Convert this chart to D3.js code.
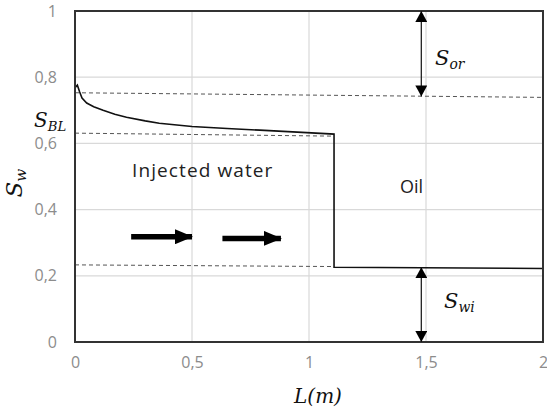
<!DOCTYPE html>
<html><head><meta charset="utf-8">
<script src="https://cdn.jsdelivr.net/npm/d3@7"></script>
<style>body{margin:0;background:#fff}svg{display:block}</style>
</head><body>
<script>
// Data
const xTicks = [0, 0.5, 1, 1.5, 2];
const xTickLabels = ["0", "0,5", "1", "1,5", "2"];
const yTicks = [0, 0.2, 0.4, 0.6, 0.8, 1];
const yTickLabels = ["0", "0,2", "0,4", "0,6", "0,8", "1"];
// saturation profile
const profileL  = [0, 0.01, 0.02, 0.03, 0.05, 0.08, 0.12, 0.17, 0.22, 0.3, 0.36, 0.5, 0.65, 0.79, 0.95, 1.107, 1.107, 2];
const profileSw = [0.768, 0.776, 0.755, 0.737, 0.722, 0.711, 0.700, 0.688, 0.679, 0.668, 0.661, 0.651, 0.645, 0.640, 0.634, 0.628, 0.226, 0.222];
// dashed reference lines [x1, y1, x2, y2]
const dashSor = [0, 0.753, 2, 0.739];
const dashSbl = [0, 0.631, 1.1, 0.622];
const dashSwi = [0, 0.233, 1.1, 0.228];
// double arrows [x, yTop, yBottom]
const arrowSor = [1.48, 1.0, 0.742];
const arrowSwi = [1.48, 0.226, 0.0];
// flow arrows [x1, x2, y]
const flowArrows = [[0.24, 0.50, 0.318], [0.63, 0.88, 0.313]];

const W = 547, H = 412;
const svg = d3.select("body").append("svg").attr("width", W).attr("height", H);
const x = d3.scaleLinear().domain([0, 2]).range([75, 543]);
const y = d3.scaleLinear().domain([0, 1]).range([342, 11]);

const defs = svg.append("defs");
defs.append("marker").attr("id", "tri").attr("viewBox", "0 0 11 12")
  .attr("refX", 11).attr("refY", 6).attr("markerWidth", 11).attr("markerHeight", 12)
  .attr("markerUnits", "userSpaceOnUse").attr("orient", "auto-start-reverse")
  .append("path").attr("d", "M0,0 L11,6 L0,12 Z").attr("fill", "#000");
defs.append("marker").attr("id", "big").attr("viewBox", "0 0 18 15")
  .attr("refX", 17).attr("refY", 7.5).attr("markerWidth", 18).attr("markerHeight", 15)
  .attr("markerUnits", "userSpaceOnUse").attr("orient", "auto")
  .append("path").attr("d", "M0,0 L18,7.5 L0,15 Z").attr("fill", "#000");

// grid
svg.append("g").selectAll("line").data(yTicks.slice(1, -1)).join("line")
  .attr("x1", x(0)).attr("x2", x(2)).attr("y1", d => y(d)).attr("y2", d => y(d))
  .attr("stroke", "#d9d9d9").attr("stroke-width", 1.2);
svg.append("g").selectAll("line").data(xTicks.slice(1, -1)).join("line")
  .attr("y1", y(0)).attr("y2", y(1)).attr("x1", d => x(d)).attr("x2", d => x(d))
  .attr("stroke", "#d9d9d9").attr("stroke-width", 1.2);

// axes (labels only)
const yAxis = d3.axisLeft(y).tickValues(yTicks).tickFormat((d, i) => yTickLabels[i]).tickSize(0).tickPadding(18);
const gy = svg.append("g").attr("transform", `translate(${x(0)},0)`).call(yAxis);
const xAxis = d3.axisBottom(x).tickValues(xTicks).tickFormat((d, i) => xTickLabels[i]).tickSize(0).tickPadding(15);
const gx = svg.append("g").attr("transform", `translate(0,${y(0)})`).call(xAxis);
[gx, gy].forEach(g => {
  g.select(".domain").remove();
  g.selectAll("text").attr("fill", "#8c8c8c").style("font-family", "Open Sans").style("font-size", "16px");
});

// dashed lines
[dashSor, dashSbl, dashSwi].forEach(d => {
  svg.append("line").attr("x1", x(d[0])).attr("y1", y(d[1])).attr("x2", x(d[2])).attr("y2", y(d[3]))
    .attr("stroke", "#555").attr("stroke-width", 1).attr("stroke-dasharray", "4,3");
});

// profile
const line = d3.line().x((d, i) => x(profileL[i])).y((d, i) => y(profileSw[i]));
svg.append("path").datum(profileL).attr("d", line).attr("fill", "none")
  .attr("stroke", "#111").attr("stroke-width", 1.6);

// frame
svg.append("rect").attr("x", x(0)).attr("y", y(1)).attr("width", x(2) - x(0)).attr("height", y(0) - y(1))
  .attr("fill", "none").attr("stroke", "#333").attr("stroke-width", 2);

// double arrows
[arrowSor, arrowSwi].forEach(a => {
  svg.append("line").attr("x1", x(a[0])).attr("x2", x(a[0])).attr("y1", y(a[1])).attr("y2", y(a[2]))
    .attr("stroke", "#222").attr("stroke-width", 1.3)
    .attr("marker-start", "url(#tri)").attr("marker-end", "url(#tri)");
});

// flow arrows
flowArrows.forEach(a => {
  svg.append("line").attr("x1", x(a[0])).attr("x2", x(a[1])).attr("y1", y(a[2])).attr("y2", y(a[2]))
    .attr("stroke", "#000").attr("stroke-width", 5.5)
    .attr("marker-end", "url(#big)");
});

// texts
const sans = "Open Sans";
const math = "DejaVu Serif";
svg.append("text").attr("x", 132).attr("y", 177).text("Injected water")
  .style("font-family", sans).style("font-size", "19px").style("letter-spacing", "1.1px").attr("fill", "#222");
svg.append("text").attr("x", 400).attr("y", 193).text("Oil")
  .style("font-family", sans).style("font-size", "18px").attr("fill", "#222");

function mathLabel(xp, yp, main, sub, size, rotate) {
  const t = svg.append("text").attr("x", xp).attr("y", yp)
    .style("font-family", math).style("font-style", "italic").attr("fill", "#111");
  if (rotate) t.attr("transform", `rotate(-90,${xp},${yp})`).attr("text-anchor", "middle");
  t.append("tspan").text(main).style("font-size", size + "px");
  t.append("tspan").text(sub).style("font-size", (size * 0.66) + "px").attr("dy", size * 0.18);
  return t;
}
mathLabel(435, 65, "S", "or", 21);
mathLabel(444, 308, "S", "wi", 21);
mathLabel(34, 127, "S", "BL", 20);
mathLabel(22, 183, "S", "w", 23, true);
svg.append("text").attr("x", 318).attr("y", 403).attr("text-anchor", "middle")
  .style("font-family", math).style("font-style", "italic").style("font-size", "20px").attr("fill", "#111")
  .text("L(m)");
</script>
</body></html>
